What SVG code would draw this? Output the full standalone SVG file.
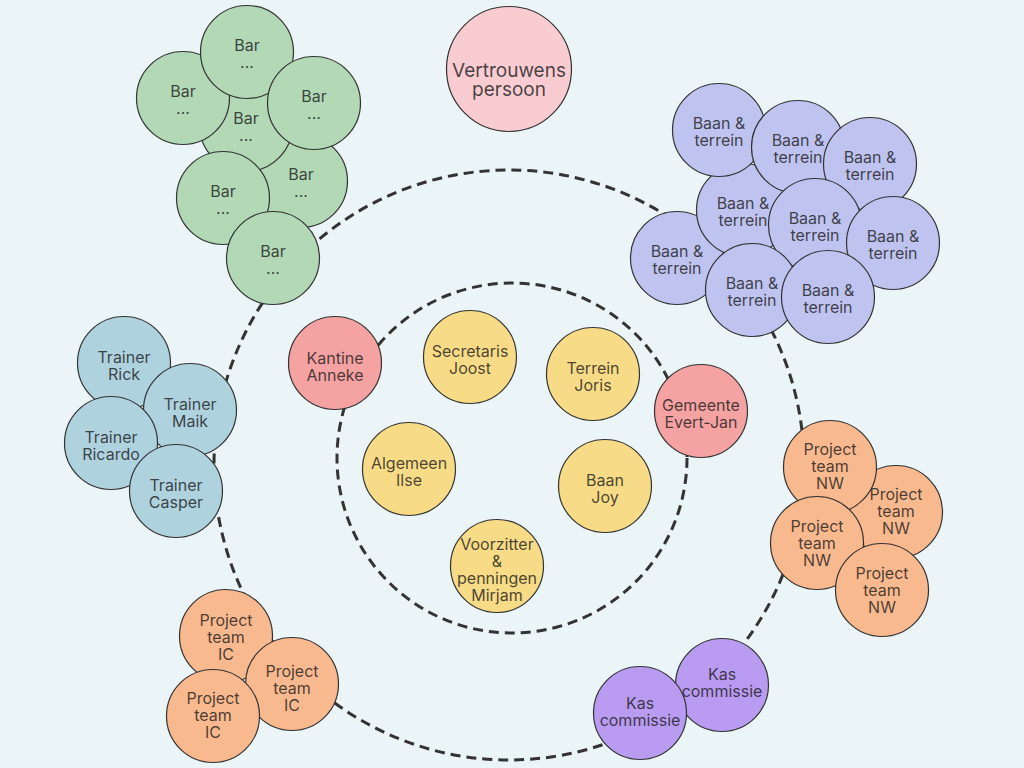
<svg xmlns="http://www.w3.org/2000/svg" width="1024" height="768" viewBox="0 0 1024 768">
<style>
  .n { stroke: #333; stroke-width: 1.2; }
  .bar { fill: #B2D8B6; }
  .baan { fill: #BFC3EF; }
  .tr { fill: #AFD2DF; }
  .pr { fill: #F9B98F; }
  .kas { fill: #B99CF1; }
  .red { fill: #F5A2A2; }
  .yel { fill: #F7DB87; }
  .pink { fill: #F8CCD1; }
  .ring { fill: none; stroke: #333; stroke-width: 3; stroke-dasharray: 10 6; }
  text { font-family: Inter, "Liberation Sans", sans-serif; font-size: 16px; fill: #1a1a1a; fill-opacity: 0.8; text-anchor: middle; }
  .big { font-size: 19px; }
</style>
<rect width="1024" height="768" fill="#EBF4F6"/>
<g id="connectors">
  <circle class="ring" cx="509" cy="465" r="295"/>
  <circle class="ring" cx="512" cy="458" r="175"/>
</g>
<g id="vertrouwens"><circle class="n pink" cx="509" cy="69" r="62.5"/><text class="big"><tspan x="509" y="77">Vertrouwens</tspan><tspan x="509" y="96">persoon</tspan></text></g>

<g id="bar-5"><circle class="n bar" cx="301" cy="181" r="46.5"/><text><tspan x="301" y="180">Bar</tspan><tspan x="301" y="197">...</tspan></text></g>
<g id="bar-3"><circle class="n bar" cx="246" cy="125" r="46.5"/><text><tspan x="246" y="124">Bar</tspan><tspan x="246" y="141">...</tspan></text></g>
<g id="bar-2"><circle class="n bar" cx="183" cy="98" r="46.5"/><text><tspan x="183" y="97">Bar</tspan><tspan x="183" y="114">...</tspan></text></g>
<g id="bar-1"><circle class="n bar" cx="247" cy="52" r="46.5"/><text><tspan x="247" y="51">Bar</tspan><tspan x="247" y="68">...</tspan></text></g>
<g id="bar-4"><circle class="n bar" cx="314" cy="103" r="46.5"/><text><tspan x="314" y="102">Bar</tspan><tspan x="314" y="119">...</tspan></text></g>
<g id="bar-6"><circle class="n bar" cx="223" cy="198" r="46.5"/><text><tspan x="223" y="197">Bar</tspan><tspan x="223" y="214">...</tspan></text></g>
<g id="bar-7"><circle class="n bar" cx="273" cy="258" r="46.5"/><text><tspan x="273" y="257">Bar</tspan><tspan x="273" y="274">...</tspan></text></g>

<g id="baan-g"><circle class="n baan" cx="677" cy="258" r="46.5"/><text><tspan x="677" y="257">Baan &amp;</tspan><tspan x="677" y="274">terrein</tspan></text></g>
<g id="baan-d"><circle class="n baan" cx="743" cy="210" r="46.5"/><text><tspan x="743" y="209">Baan &amp;</tspan><tspan x="743" y="226">terrein</tspan></text></g>
<g id="baan-a"><circle class="n baan" cx="719" cy="130" r="46.5"/><text><tspan x="719" y="129">Baan &amp;</tspan><tspan x="719" y="146">terrein</tspan></text></g>
<g id="baan-b"><circle class="n baan" cx="798" cy="147" r="46.5"/><text><tspan x="798" y="146">Baan &amp;</tspan><tspan x="798" y="163">terrein</tspan></text></g>
<g id="baan-c"><circle class="n baan" cx="870" cy="164" r="46.5"/><text><tspan x="870" y="163">Baan &amp;</tspan><tspan x="870" y="180">terrein</tspan></text></g>
<g id="baan-e"><circle class="n baan" cx="815" cy="225" r="46.5"/><text><tspan x="815" y="224">Baan &amp;</tspan><tspan x="815" y="241">terrein</tspan></text></g>
<g id="baan-f"><circle class="n baan" cx="893" cy="243" r="46.5"/><text><tspan x="893" y="242">Baan &amp;</tspan><tspan x="893" y="259">terrein</tspan></text></g>
<g id="baan-h"><circle class="n baan" cx="752" cy="290" r="46.5"/><text><tspan x="752" y="289">Baan &amp;</tspan><tspan x="752" y="306">terrein</tspan></text></g>
<g id="baan-i"><circle class="n baan" cx="828" cy="297" r="46.5"/><text><tspan x="828" y="296">Baan &amp;</tspan><tspan x="828" y="313">terrein</tspan></text></g>

<g id="trainer-rick"><circle class="n tr" cx="124" cy="363" r="46.5"/><text><tspan x="124" y="363">Trainer</tspan><tspan x="124" y="380">Rick</tspan></text></g>
<g id="trainer-maik"><circle class="n tr" cx="190" cy="410" r="46.5"/><text><tspan x="190" y="410">Trainer</tspan><tspan x="190" y="427">Maik</tspan></text></g>
<g id="trainer-ricardo"><circle class="n tr" cx="111" cy="443" r="46.5"/><text><tspan x="111" y="443">Trainer</tspan><tspan x="111" y="460">Ricardo</tspan></text></g>
<g id="trainer-casper"><circle class="n tr" cx="176" cy="491" r="46.5"/><text><tspan x="176" y="491">Trainer</tspan><tspan x="176" y="508">Casper</tspan></text></g>

<g id="kantine"><circle class="n red" cx="335" cy="363" r="46.5"/><text><tspan x="335" y="364">Kantine</tspan><tspan x="335" y="381">Anneke</tspan></text></g>
<g id="gemeente"><circle class="n red" cx="701" cy="411" r="46.5"/><text><tspan x="701" y="411">Gemeente</tspan><tspan x="701" y="428">Evert-Jan</tspan></text></g>
<g id="secretaris"><circle class="n yel" cx="470" cy="357" r="46.5"/><text><tspan x="470" y="357">Secretaris</tspan><tspan x="470" y="374">Joost</tspan></text></g>
<g id="terrein"><circle class="n yel" cx="593" cy="374" r="46.5"/><text><tspan x="593" y="374">Terrein</tspan><tspan x="593" y="391">Joris</tspan></text></g>
<g id="algemeen"><circle class="n yel" cx="409" cy="469" r="46.5"/><text><tspan x="409" y="469">Algemeen</tspan><tspan x="409" y="486">Ilse</tspan></text></g>
<g id="baan-joy"><circle class="n yel" cx="605" cy="486" r="46.5"/><text><tspan x="605" y="486">Baan</tspan><tspan x="605" y="503">Joy</tspan></text></g>
<g id="voorzitter"><circle class="n yel" cx="497" cy="566" r="46.5"/><text><tspan x="497" y="550">Voorzitter</tspan><tspan x="497" y="567">&amp;</tspan><tspan x="497" y="584">penningen</tspan><tspan x="497" y="601">Mirjam</tspan></text></g>

<g id="nw-2"><circle class="n pr" cx="896" cy="512" r="46.5"/><text><tspan x="896" y="500">Project</tspan><tspan x="896" y="517">team</tspan><tspan x="896" y="534">NW</tspan></text></g>
<g id="nw-1"><circle class="n pr" cx="830" cy="467" r="46.5"/><text><tspan x="830" y="455">Project</tspan><tspan x="830" y="472">team</tspan><tspan x="830" y="489">NW</tspan></text></g>
<g id="nw-3"><circle class="n pr" cx="817" cy="543" r="46.5"/><text><tspan x="817" y="532">Project</tspan><tspan x="817" y="549">team</tspan><tspan x="817" y="566">NW</tspan></text></g>
<g id="nw-4"><circle class="n pr" cx="882" cy="590" r="46.5"/><text><tspan x="882" y="579">Project</tspan><tspan x="882" y="596">team</tspan><tspan x="882" y="613">NW</tspan></text></g>

<g id="ic-1"><circle class="n pr" cx="226" cy="636" r="46.5"/><text><tspan x="226" y="626">Project</tspan><tspan x="226" y="643">team</tspan><tspan x="226" y="660">IC</tspan></text></g>
<g id="ic-2"><circle class="n pr" cx="292" cy="684" r="46.5"/><text><tspan x="292" y="677">Project</tspan><tspan x="292" y="694">team</tspan><tspan x="292" y="711">IC</tspan></text></g>
<g id="ic-3"><circle class="n pr" cx="213" cy="716" r="46.5"/><text><tspan x="213" y="704">Project</tspan><tspan x="213" y="721">team</tspan><tspan x="213" y="738">IC</tspan></text></g>

<g id="kas-2"><circle class="n kas" cx="722" cy="685" r="46.5"/><text><tspan x="722" y="680">Kas</tspan><tspan x="722" y="697">commissie</tspan></text></g>
<g id="kas-1"><circle class="n kas" cx="640" cy="713" r="46.5"/><text><tspan x="640" y="709">Kas</tspan><tspan x="640" y="726">commissie</tspan></text></g>
</svg>
